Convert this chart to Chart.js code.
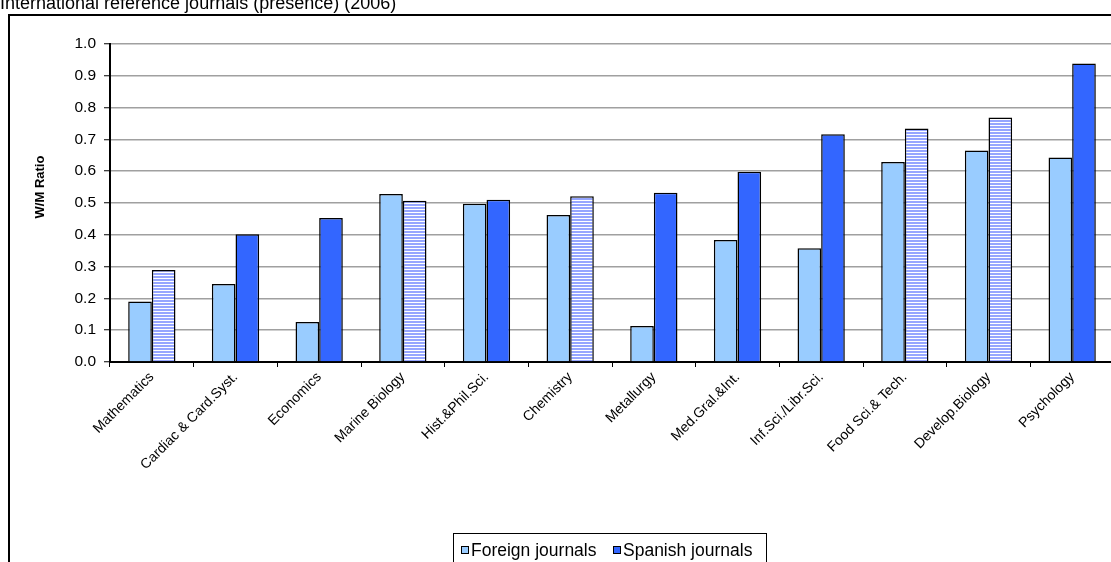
<!DOCTYPE html>
<html>
<head>
<meta charset="utf-8">
<script src="https://cdn.jsdelivr.net/npm/chart.js@4"></script>
<style>
  html, body { margin: 0; padding: 0; background: #fff; overflow: hidden; }
  #wrap { position: relative; width: 1230px; height: 562px; }
</style>
</head>
<body>
<div id="wrap"><canvas id="chart" width="1230" height="562"></canvas></div>
<script>
// W/M ratio by field, foreign vs Spanish reference journals
const categories = [
  'Mathematics', 'Cardiac & Card.Syst.', 'Economics', 'Marine Biology',
  'Hist.&Phil.Sci.', 'Chemistry', 'Metallurgy', 'Med.Gral.&Int.',
  'Inf.Sci./Libr.Sci.', 'Food Sci.& Tech.', 'Develop.Biology', 'Psychology'
];
const foreignJournals = [0.19, 0.245, 0.126, 0.528, 0.498, 0.462, 0.113, 0.384, 0.358, 0.629, 0.665, 0.643];
const spanishJournals = [0.289, 0.402, 0.453, 0.507, 0.510, 0.521, 0.532, 0.598, 0.716, 0.734, 0.769, 0.939];
// Spanish bars drawn with the striped fill
const spanishStriped = [true, false, false, true, false, true, false, false, false, true, true, false];
const seriesNames = ['Foreign journals', 'Spanish journals'];
const yTickValues = [0, 0.1, 0.2, 0.3, 0.4, 0.5, 0.6, 0.7, 0.8, 0.9, 1.0];
const chartTitle = 'International reference journals (presence) (2006)';
const yAxisTitle = 'W/M Ratio';

const FONT = "'Liberation Sans', Arial, sans-serif";
const FOREIGN_COLOR = '#99CCFF';
const SPANISH_COLOR = '#3366FF';

// horizontal stripe fill
function makeStripes() {
  const p = document.createElement('canvas');
  p.width = 4; p.height = 3;
  const g = p.getContext('2d');
  g.fillStyle = '#96A6FF';
  g.fillRect(0, 0, 4, 2);
  g.fillStyle = '#FFFFFF';
  g.fillRect(0, 2, 4, 1);
  return g.createPattern(p, 'repeat');
}
const stripes = makeStripes();

const framePlugin = {
  id: 'frame',
  beforeDraw(chart) {
    const ctx = chart.ctx;
    ctx.save();
    ctx.fillStyle = '#fff';
    ctx.fillRect(0, 0, chart.width, chart.height);
    // page heading above the chart box
    ctx.fillStyle = '#000';
    ctx.font = '18px ' + FONT;
    ctx.textBaseline = 'alphabetic';
    ctx.textAlign = 'left';
    ctx.fillText(chartTitle, 0, 9);
    // chart box
    ctx.strokeStyle = '#000';
    ctx.lineWidth = 2;
    ctx.strokeRect(9, 15, chart.width + 20, chart.height + 20);
    ctx.restore();
  },
  afterDraw(chart) {
    const ctx = chart.ctx;
    ctx.save();
    // value axis title
    const area = chart.chartArea;
    ctx.translate(40, 187);
    ctx.rotate(-Math.PI / 2);
    ctx.font = 'bold 13px ' + FONT;
    ctx.fillStyle = '#000';
    ctx.textAlign = 'center';
    ctx.textBaseline = 'middle';
    ctx.fillText(yAxisTitle, 0, 0);
    ctx.setTransform(1, 0, 0, 1, 0, 0);
    // legend box
    ctx.strokeStyle = '#000';
    ctx.lineWidth = 1;
    ctx.strokeRect(453.5, 533.5, 313, 40);
    ctx.font = '17.5px ' + FONT;
    ctx.textBaseline = 'alphabetic';
    ctx.textAlign = 'left';
    const entries = [
      { x: 461, color: chart.data.datasets[0].legendColor, label: chart.data.datasets[0].label },
      { x: 613, color: chart.data.datasets[1].legendColor, label: chart.data.datasets[1].label }
    ];
    entries.forEach(e => {
      ctx.fillStyle = e.color;
      ctx.fillRect(e.x, 546, 7, 7);
      ctx.strokeStyle = '#000';
      ctx.strokeRect(e.x + 0.5, 546.5, 7, 7);
      ctx.fillStyle = '#000';
      ctx.fillText(e.label, e.x + 10, 556);
    });
    ctx.restore();
  }
};

new Chart(document.getElementById('chart'), {
  type: 'bar',
  data: {
    labels: categories,
    datasets: [
      {
        label: seriesNames[0],
        data: foreignJournals,
        backgroundColor: FOREIGN_COLOR,
        legendColor: FOREIGN_COLOR,
        borderColor: '#000',
        borderWidth: 1.5
      },
      {
        label: seriesNames[1],
        data: spanishJournals,
        backgroundColor: spanishStriped.map(s => s ? stripes : SPANISH_COLOR),
        legendColor: SPANISH_COLOR,
        borderColor: '#000',
        borderWidth: 1.5
      }
    ]
  },
  options: {
    responsive: false,
    animation: false,
    events: [],
    layout: { padding: { top: 44, right: 1230 - 1114, bottom: 0, left: 0 } },
    plugins: { legend: { display: false }, tooltip: { enabled: false }, title: { display: false } },
    datasets: { bar: { categoryPercentage: 0.565, barPercentage: 1.0 } },
    scales: {
      x: {
        afterFit(scale) { scale.height = 200; },
        grid: { drawOnChartArea: false, drawTicks: true, tickLength: 5, tickColor: '#000', tickWidth: 1, offset: true },
        border: { color: '#000', width: 2 },
        ticks: {
          minRotation: 45, maxRotation: 45, autoSkip: false, padding: 2,
          color: '#000', font: { family: FONT, size: 14 }
        }
      },
      y: {
        min: 0, max: 1,
        afterFit(scale) { scale.width = 110; },
        afterBuildTicks(scale) { scale.ticks = yTickValues.map(v => ({ value: v })); },
        grid: { color: '#A0A0A0', lineWidth: 1.5, drawTicks: true, tickLength: 6, tickColor: '#000', tickWidth: 1 },
        border: { color: '#000', width: 2 },
        ticks: {
          color: '#000', padding: 8, font: { family: FONT, size: 15.5 },
          callback: v => Number(v).toFixed(1)
        },
        title: { display: false }
      }
    }
  },
  plugins: [framePlugin]
});
</script>
</body>
</html>
